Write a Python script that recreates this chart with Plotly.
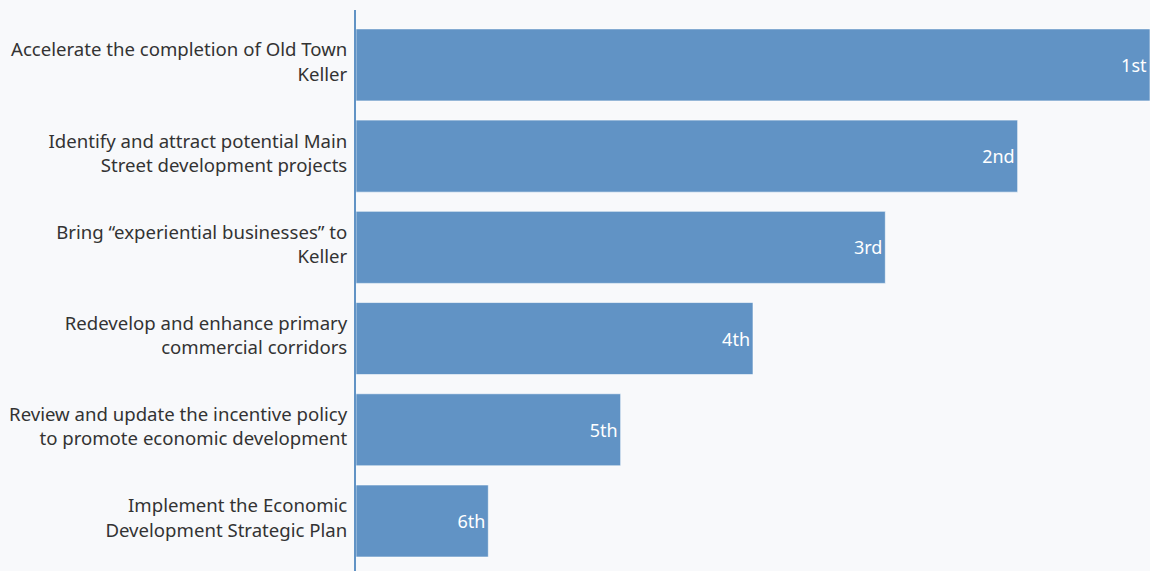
import plotly.graph_objects as go

# Economic development priorities, ranked
priorities = [
    "Accelerate the completion of Old Town<br>Keller",
    "Identify and attract potential Main<br>Street development projects",
    "Bring “experiential businesses” to<br>Keller",
    "Redevelop and enhance primary<br>commercial corridors",
    "Review and update the incentive policy<br>to promote economic development",
    "Implement the Economic<br>Development Strategic Plan",
]
rank_labels = ["1st", "2nd", "3rd", "4th", "5th", "6th"]
scores = [6, 5, 4, 3, 2, 1]

FONT = "Source Sans Pro, Noto Sans, sans-serif"

fig = go.Figure(
    go.Bar(
        x=scores,
        y=priorities,
        orientation="h",
        text=rank_labels,
        textposition="inside",
        insidetextanchor="end",
        textfont=dict(color="white", size=18, family=FONT),
        marker=dict(color="#6193c5", line=dict(color="rgba(255,255,255,0.6)", width=1)),
        hoverinfo="skip",
    )
)

fig.update_layout(
    width=1150,
    height=571,
    margin=dict(l=356, r=0, t=10, b=0),
    paper_bgcolor="#f8f9fb",
    plot_bgcolor="#f8f9fb",
    bargap=0.21,
    showlegend=False,
    font=dict(family=FONT, size=18, color="#333333"),
    uniformtext=dict(mode="show", minsize=18),
)
fig.update_xaxes(range=[0, 6], visible=False, fixedrange=True)
fig.update_yaxes(
    categoryorder="array",
    categoryarray=priorities,
    range=[5.548, -0.602],
    showline=True,
    linecolor="#6193c5",
    linewidth=2,
    showgrid=False,
    ticks="",
    ticklabelstandoff=3,
    ticklabelshift=3,
    tickfont=dict(size=18.6, color="#333333", family=FONT),
    fixedrange=True,
)

fig.write_html("out.html")
